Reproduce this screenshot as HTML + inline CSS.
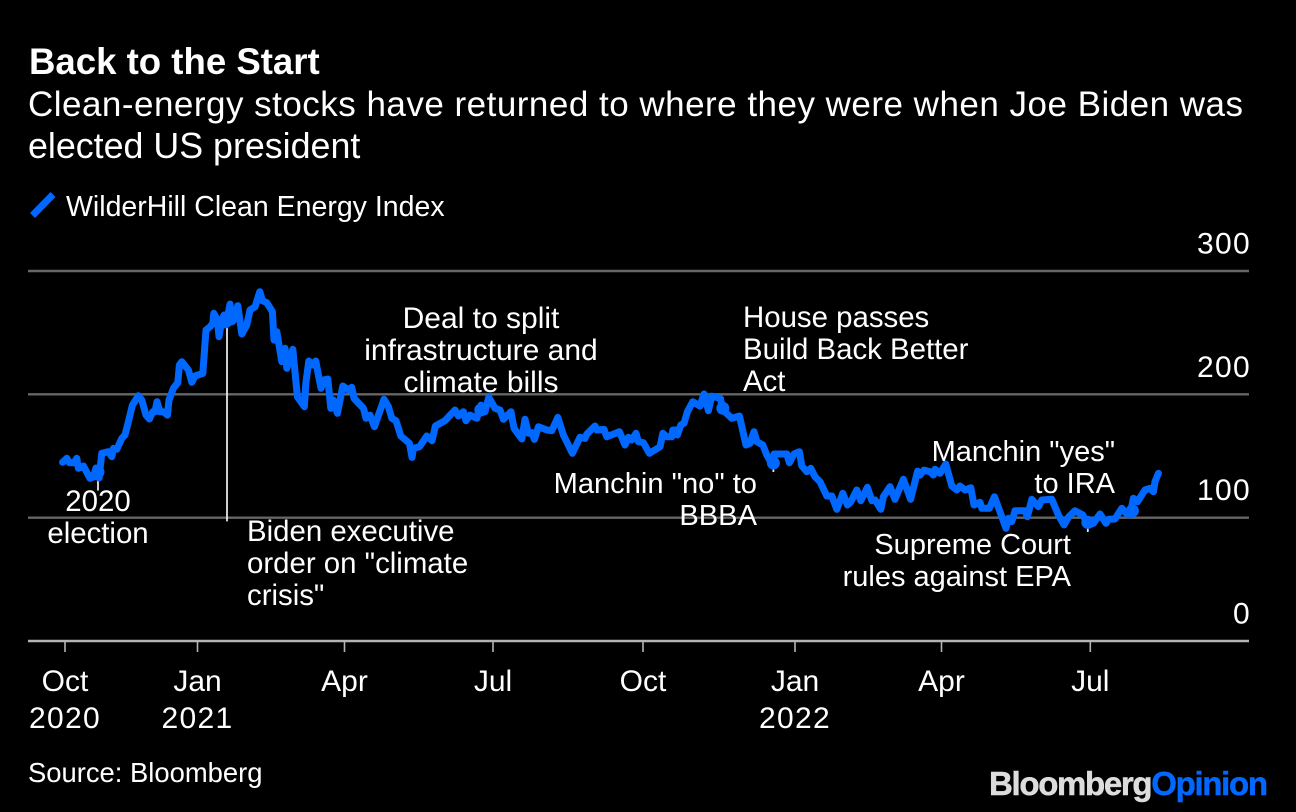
<!DOCTYPE html>
<html lang="en">
<head>
<meta charset="utf-8">
<title>Back to the Start</title>
<style>
html,body{margin:0;padding:0;background:#000;}
#chart{display:block;width:1296px;height:812px;background:#000;font-family:"Liberation Sans",Arial,sans-serif;fill:#fff;}
.ann{font-size:29.4px;}
.tick{font-size:30px;}
.num{font-size:30px;letter-spacing:1.3px;}
</style>
</head>
<body>
<svg id="chart" xmlns="http://www.w3.org/2000/svg" width="1296" height="812" viewBox="0 0 1296 812">
  <text x="29" y="74" font-size="36.6" font-weight="700">Back to the Start</text>
  <text x="28" y="116" font-size="35" textLength="1215" lengthAdjust="spacing">Clean-energy stocks have returned to where they were when Joe Biden was</text>
  <text x="28" y="158" font-size="35.8">elected US president</text>

  <line x1="32.5" y1="215.5" x2="53" y2="194.5" stroke="#0068ff" stroke-width="7"/>
  <text x="66" y="216" font-size="28.5">WilderHill Clean Energy Index</text>

  <g id="grid"></g>
  <g id="yaxis"></g>
  <g id="xaxis"></g>
  <g id="stems"></g>
  <path id="series" fill="none" stroke="#0068ff" stroke-width="7" stroke-linejoin="round" stroke-linecap="round"></path>
  <g id="markers"></g>

  <g class="ann">
    <text text-anchor="middle"><tspan x="98" y="511">2020</tspan><tspan x="98" y="543">election</tspan></text>
    <text><tspan x="247" y="541">Biden executive</tspan><tspan x="247" y="573">order on "climate</tspan><tspan x="247" y="605">crisis"</tspan></text>
    <text text-anchor="middle" font-size="30"><tspan x="481" y="328">Deal to split</tspan><tspan x="481" y="360">infrastructure and</tspan><tspan x="481" y="392">climate bills</tspan></text>
    <text><tspan x="743" y="327">House passes</tspan><tspan x="743" y="359">Build Back Better</tspan><tspan x="743" y="391">Act</tspan></text>
    <text text-anchor="end" font-size="29.1"><tspan x="757" y="493">Manchin "no" to</tspan><tspan x="757" y="525">BBBA</tspan></text>
    <text text-anchor="end" font-size="29"><tspan x="1071" y="554">Supreme Court</tspan><tspan x="1071" y="586">rules against EPA</tspan></text>
    <text text-anchor="end" font-size="29"><tspan x="1115" y="461">Manchin "yes"</tspan><tspan x="1115" y="493">to IRA</tspan></text>
  </g>

  <text x="28" y="782" font-size="27.4">Source: Bloomberg</text>
  <text x="989" y="795" font-size="33" font-weight="700" stroke-width="0.5" textLength="279" lengthAdjust="spacing"><tspan fill="#dcdcdc" stroke="#dcdcdc">Bloomberg</tspan><tspan fill="#0068ff" stroke="#0068ff">Opinion</tspan></text>
</svg>
<script>
// Trading-session position of each reading along the x axis
const sessions = [-1.2,0.9,2.2,4.5,5.9,6.7,9.2,12.5,14.2,15.5,17,18.4,21.7,23.4,24.2,25.9,28.4,30,31.7,33.7,36.7,38.4,40.5,42.2,43.9,45,46,47.5,49.2,51.2,52,54.2,56.4,57.2,58.4,61.7,63.4,65,68.9,70.5,72.5,73.9,74.4,76.2,77,78.4,79.5,80.5,82.5,83.7,85,86.4,88.4,90.9,92.5,95,97.4,98.7,100.9,103.7,104.5,105.9,108.4,110,110.9,113.9,116.2,119.7,120.4,121.9,123.9,125.4,126.7,128,129.2,131.4,132.9,134.2,136.2,138.9,141.7,143.4,144.5,149.2,150.5,152.5,154.7,159.5,161.7,163.4,165.5,167.9,172.2,173.5,174.2,177.2,180.9,183.5,185.2,190,195,196.7,199.2,200.5,202.5,205.9,208,210,211.9,215,217.5,219.2,223,224.5,228.4,230,231.7,233.4,234.7,236.7,240.9,243.4,246.4,249.2,253.7,257.5,260,260.9,265,265.9,269.5,270.9,277.2,280,281.7,283.4,285.5,286.7,289.2,292.2,297.5,298.9,300.9,303.4,303.9,305.5,306.2,307.9,309.5,311.2,313.9,317.5,319.5,321.7,323.4,327.5,329.5,333.4,337.2,340.5,342.5,344.5,345.9,348.9,350.9,354,354.5,360.9,362.2,364.5,367.2,368.4,370.9,372.9,375,377.5,380.9,383.4,385.9,388.9,391.2,392.9,395.9,397.9,401.2,403.4,405,407.9,409.2,412.5,415,419.2,422.8,426.3,427.5,429.5,432.5,434.2,435,437.5,440.4,443.4,445.9,447.5,450,452.9,454.5,457.5,458.4,462.2,464.7,467.5,470.5,471.7,473.4,475,480,481.2,483.4,486.7,488.4,493.4,496.7,499.5,501.7,505,508.9,511.5,514.2,517.5,520.5,521.7,525,528.4,530.9,532.5,534.2,536.2,540,542.5,544.2,545,546.7];
// WilderHill Clean Energy Index readings
const indexValues = [144.9,148.1,144.6,144.6,148.1,140,141.9,131.9,133,140.3,132.2,152.2,153.5,149.4,156.2,155.4,164.3,167,177.8,191.3,198.9,195.4,183.2,180,185.9,185.9,194,185.9,185.9,183.2,195.4,204.9,209.4,223.8,226.5,219.7,209.8,214.9,217,252.2,254.8,257.6,265.7,260.3,246.7,260.3,264.3,256.2,273.2,258.9,261.7,271.9,248.9,256.2,268.4,271,283.2,275.9,274.3,267,244,250.8,226.5,237.3,221.1,236.5,198.1,190,208.9,227,223.8,227,215.7,204.9,211.6,212.4,188.7,195.4,184.6,206.8,203.5,205.7,196.8,188.7,180.6,183.2,173.8,196,190,180.6,178.6,166.2,160.3,148.9,156.2,157.5,166.2,162.4,174.3,178.6,187.3,182.4,185.9,178.6,183.2,180.6,191.3,185.9,197.6,188.7,187.3,179.8,185.9,172.5,163.8,179.8,168.4,168.9,163.5,173.8,171.1,170.5,181.3,167,152.2,165.2,164.3,167.8,174.3,171.1,171.6,165.6,169.7,158.9,165.2,163,168.4,161.6,160.8,152.2,157.5,168.4,165.6,165.6,171.1,171.1,167,175.1,176.5,185.9,194,190.5,200.3,186.7,198.6,196.8,186.5,180.6,182.4,158.9,160.3,169.7,161.6,158.9,150.8,141.9,151.6,151.6,144.6,151.6,153.5,141.9,137.3,140,133.2,129.2,117.6,117.6,106.8,119.8,110.3,112.9,122.4,113.8,124.6,113.8,114.3,106.8,117,125.1,114.9,131.1,114.9,137.8,134.6,138.6,137.3,134.6,139.2,136,143.5,125.7,122.4,125.7,122.4,124.3,110.3,112.5,107.6,107.6,117,104.8,91.4,99.5,96.7,105.6,105.6,100.8,114.9,108.9,114.3,114.9,102.2,94.1,100.3,105.6,102.2,94.1,95.4,103,95.4,98.7,98.9,107.6,103,102.2,115.7,112.9,122.4,123.8,121,129.2,136];
// Axis ticks
const yTickValues = [0,100,200,300];
const xTickSessions = [0,66.25,139.75,214,289,365,438.25,512.65];
const xTickMonths = ["Oct","Jan","Apr","Jul","Oct","Jan","Apr","Jul"];
const xTickYears = ["2020","2021","","","","2022","",""];
// Annotated events: session, index value at the marker, index value where the stem ends
const eventSessions = [16.5,81,207.9,328.9,354.2,511.4,533.7];
const eventValues = [137,259.7,187.3,188.7,144.3,96.2,105.6];
const eventStemEnds = [122,97,193.8,197.8,137,88.4,114.3];

const SVGNS = 'http://www.w3.org/2000/svg';
function xScale(t){ return 65 + t * 2; }
function yScale(v){ return 641 - v * 1.2333; }
function make(tag, parent, attrs, text){
  const el = document.createElementNS(SVGNS, tag);
  for (const k in attrs) el.setAttribute(k, attrs[k]);
  if (text !== undefined) el.textContent = text;
  parent.appendChild(el);
  return el;
}
const grid = document.getElementById('grid');
const yaxis = document.getElementById('yaxis');
const xaxis = document.getElementById('xaxis');
const stems = document.getElementById('stems');
const markers = document.getElementById('markers');

yTickValues.forEach(function(v){
  const y = yScale(v);
  const line = make('line', grid, {x1:28, x2:1249, y1:y, y2:y, stroke: v === 0 ? '#b4b4b4' : '#666', 'stroke-width':2.4});
  
  
  const label = make('text', yaxis, {x:1251, y:y - 17.5, 'text-anchor':'end', 'class':'num'}, String(v));
  
  
});

xTickSessions.forEach(function(t, i){
  const x = xScale(t);
  const tick = make('line', xaxis, {x1:x, x2:x, y1:641, y2:652, stroke:'#b4b4b4', 'stroke-width':1.6});
  
  
  const month = make('text', xaxis, {x:x, y:691, 'text-anchor':'middle', 'class':'tick'}, xTickMonths[i]);
  
  
  if (xTickYears[i]) {
    const year = make('text', xaxis, {x:x, y:728, 'text-anchor':'middle', 'class':'num'}, xTickYears[i]);
    
    
  }
});

eventSessions.forEach(function(t, i){
  const x = xScale(t);
  const stem = make('line', stems, {x1:x, x2:x, y1:yScale(eventValues[i]), y2:yScale(eventStemEnds[i]), stroke:'#e6e6e6', 'stroke-width':1.8});
  
  
  const dot = make('circle', markers, {cx:x, cy:yScale(eventValues[i]), r:6.5, fill:'#0068ff'});
  
  
});

document.getElementById('series').setAttribute('d', sessions.map(function(t, i){
  return (i ? 'L' : 'M') + xScale(t).toFixed(1) + ' ' + yScale(indexValues[i]).toFixed(1);
}).join(''));
</script>
</body>
</html>
